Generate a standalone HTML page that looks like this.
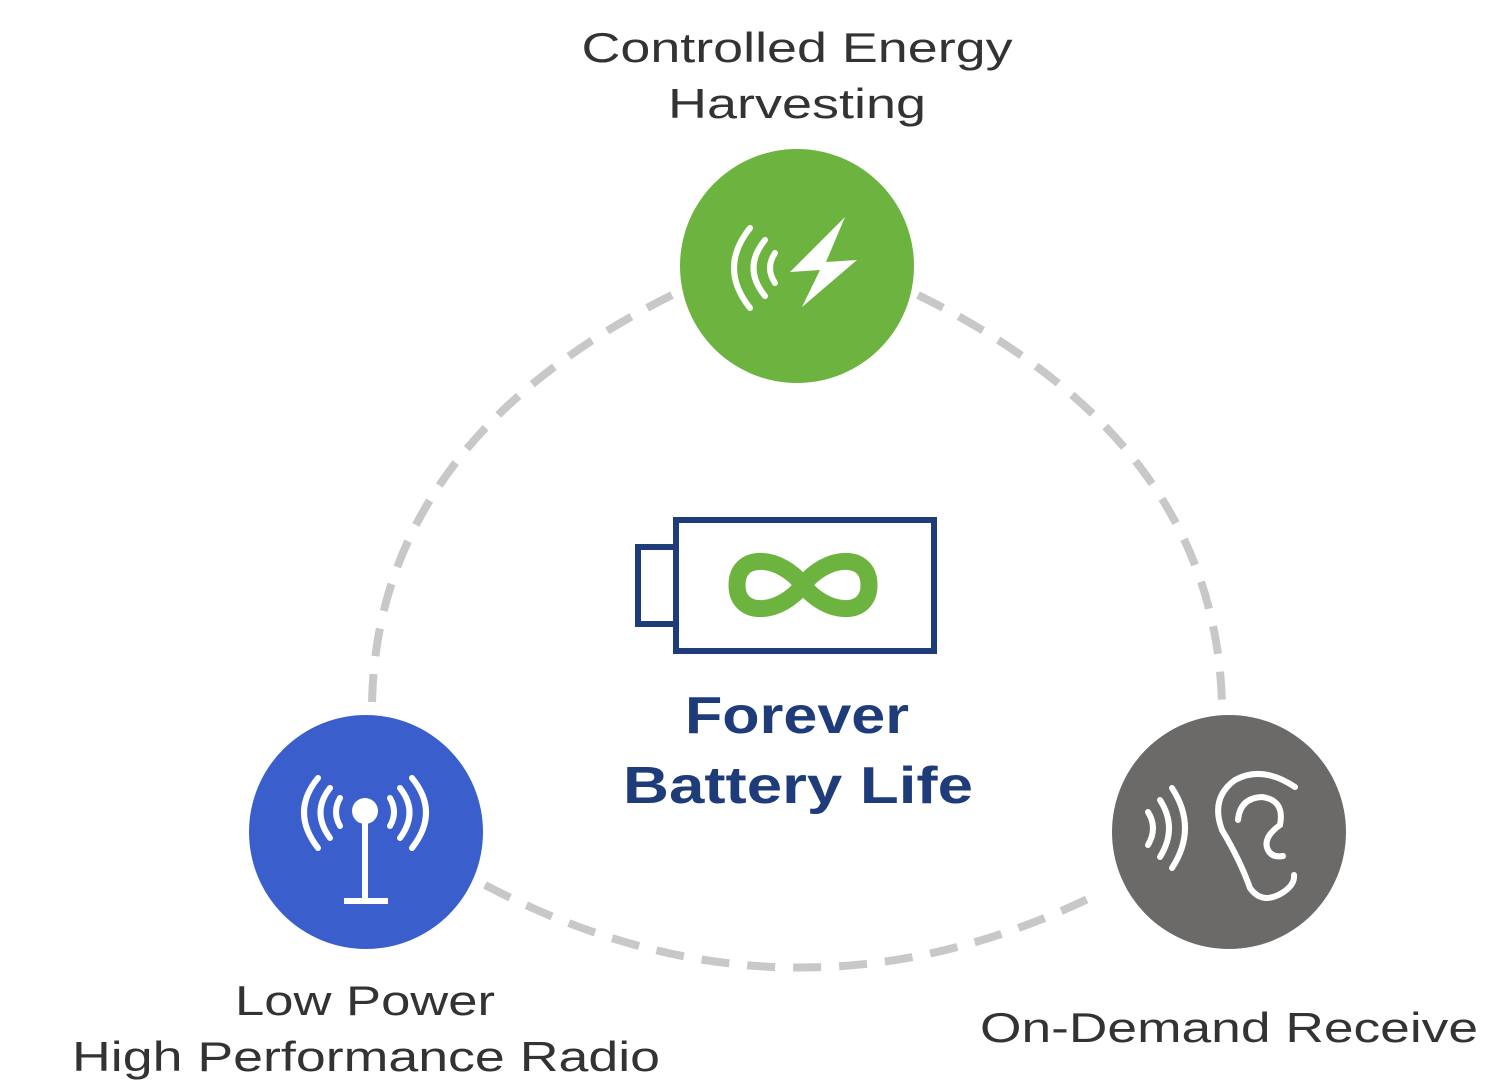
<!DOCTYPE html>
<html><head><meta charset="utf-8"><style>
html,body{margin:0;padding:0;background:#fff;}
svg{display:block;}
text{font-family:"Liberation Sans",sans-serif;}
</style></head><body>
<svg width="1504" height="1088" viewBox="0 0 1504 1088" xmlns="http://www.w3.org/2000/svg">
<g fill="none" stroke="#c8c8c6" stroke-width="8" stroke-dasharray="28 18">
<path d="M672,295 Q378,442 372,702"/>
<path d="M918,295 Q1216,442 1222,705"/>
<path d="M485,885 Q792,1046 1100,893"/>
</g>
<circle cx="797" cy="266" r="117" fill="#6db33f"/>
<circle cx="366" cy="832" r="117" fill="#3a5fcd"/>
<circle cx="1229" cy="832" r="117" fill="#6b6a69"/>
<!-- green icon -->
<g fill="none" stroke="#fff" stroke-width="6" stroke-linecap="round">
<path d="M750,228 Q718,268 750,308"/>
<path d="M765,240 Q742,268 765,296"/>
<path d="M775,253 Q765,268 775,283"/>
</g>
<polygon points="845,217 790,272 820,270 802,307 857,260 826,262" fill="#fff"/>
<!-- radio icon -->
<g fill="none" stroke="#fff" stroke-width="6" stroke-linecap="round">
<path d="M318,778 Q290,812 318,848"/>
<path d="M330,788 Q311,812 330,838"/>
<path d="M340,798 Q332,812 340,826"/>
<path d="M412,778 Q440,812 412,848"/>
<path d="M400,788 Q419,812 400,838"/>
<path d="M390,798 Q398,812 390,826"/>
<line x1="365" y1="815" x2="365" y2="900"/>
<line x1="344" y1="901" x2="388" y2="901" stroke-linecap="butt"/>
</g>
<circle cx="365" cy="811" r="13" fill="#fff"/>
<!-- ear icon -->
<g fill="none" stroke="#fff" stroke-width="6" stroke-linecap="round">
<path d="M1148,812 Q1158,828 1148,845"/>
<path d="M1160,800 Q1178,828 1160,857"/>
<path d="M1172,788 Q1198,828 1172,868"/>
<path d="M1295,787 Q1262,765 1235,780 Q1210,798 1222,830 Q1240,860 1250,888 Q1262,905 1282,893 Q1295,885 1294,875"/>
<path d="M1238,820 Q1240,798 1262,797 Q1285,800 1280,825 Q1262,838 1268,850 Q1272,858 1283,856"/>
</g>
<!-- battery -->
<rect x="676" y="520" width="258" height="131" fill="none" stroke="#1f3c7a" stroke-width="6"/>
<rect x="638" y="547" width="38" height="77" fill="none" stroke="#1f3c7a" stroke-width="6"/>
<path d="M803,585 C780,555 737,552 737,585 C737,618 780,615 803,585 C826,555 869,552 869,585 C869,618 826,615 803,585 Z" fill="none" stroke="#6db33f" stroke-width="17"/>
<text x="797" y="733" text-anchor="middle" font-size="52" font-weight="bold" fill="#1f3c7a" textLength="224" lengthAdjust="spacingAndGlyphs">Forever</text>
<text x="798" y="803" text-anchor="middle" font-size="52" font-weight="bold" fill="#1f3c7a" textLength="350" lengthAdjust="spacingAndGlyphs">Battery Life</text>
<g fill="#333" font-size="42">
<text x="797" y="62" text-anchor="middle" textLength="431" lengthAdjust="spacingAndGlyphs">Controlled Energy</text>
<text x="797" y="118" text-anchor="middle" textLength="258" lengthAdjust="spacingAndGlyphs">Harvesting</text>
<text x="365" y="1015" text-anchor="middle" textLength="260" lengthAdjust="spacingAndGlyphs">Low Power</text>
<text x="366" y="1071" text-anchor="middle" textLength="588" lengthAdjust="spacingAndGlyphs">High Performance Radio</text>
<text x="1229" y="1042" text-anchor="middle" textLength="498" lengthAdjust="spacingAndGlyphs">On-Demand Receive</text>
</g>
</svg>
</body></html>
